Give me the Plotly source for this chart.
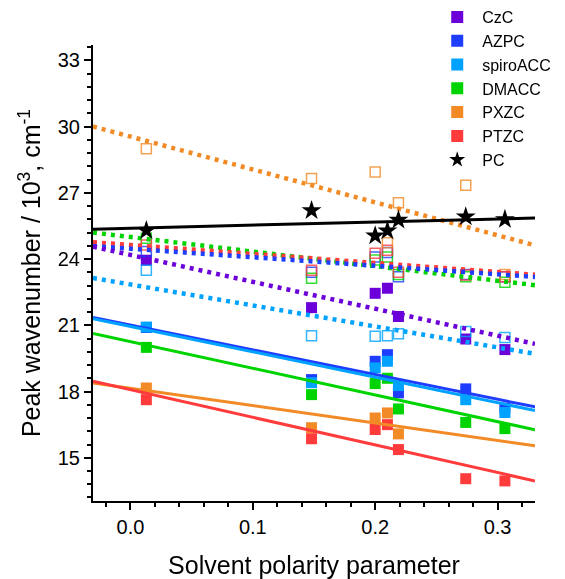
import plotly.graph_objects as go

# ---------------- data ----------------
polarity = [0.013, 0.148, 0.200, 0.210, 0.219, 0.274, 0.306]

names = ["CzC", "AZPC", "spiroACC", "DMACC", "PXZC", "PTZC"]
colors = ["#6c00d9", "#1e3dff", "#00a2ff", "#00d400", "#f28a26", "#ff3b3b"]

# filled squares
CzC_filled = [23.95, 21.80, 22.45, 22.68, 21.40, 20.38, 19.90]
AZPC_filled = [20.90, 18.54, 19.37, 19.67, 17.94, 18.12, 17.25]
spiroACC_filled = [20.92, 18.40, 19.07, 19.37, 18.27, 17.63, 17.05]
DMACC_filled = [20.00, 17.86, 18.36, 18.60, 17.21, 16.60, 16.32]
PXZC_filled = [18.16, 16.36, 16.80, 17.03, 16.08, None, None]
PTZC_filled = [17.63, 15.86, 16.28, 16.50, 15.37, 14.05, 13.95]

# open squares
AZPC_open = [24.34, 23.40, 24.10, 24.30, 23.20, 23.30, 23.20]
spiroACC_open = [23.50, 20.53, 20.50, 20.53, 20.62, 20.72, 20.45]
DMACC_open = [24.94, 23.13, 23.96, 24.10, 23.30, 23.20, 22.95]
PXZC_open = [29.00, 27.65, 27.95, 24.74, 26.55, 27.35, 23.30]
PTZC_open = [24.64, 23.50, 24.26, 24.40, 23.40, 23.28, 23.20]

PC = [25.30, 26.20, 25.06, 25.28, 25.77, 25.92, 25.80]

# linear fits: (intercept at 0, slope)
solid_fit_names = ["AZPC", "spiroACC", "DMACC", "PXZC", "PTZC", "PC"]
solid_fit_colors = ["#1e3dff", "#00a2ff", "#00d400", "#f28a26", "#ff3b3b", "#000000"]
solid_intercepts = [21.01, 20.95, 20.26, 18.15, 18.08, 25.40]
solid_slopes = [-11.21, -11.52, -12.08, -7.89, -12.50, 1.39]

dot_fit_names = ["PXZC", "DMACC", "PTZC", "AZPC", "CzC", "spiroACC"]
dot_fit_colors = ["#f28a26", "#00d400", "#ff3b3b", "#1e3dff", "#6c00d9", "#00a2ff"]
dot_intercepts = [29.55, 25.00, 24.64, 24.47, 24.19, 22.85]
dot_slopes = [-14.90, -6.60, -4.08, -3.86, -12.20, -9.50]

x_range = [-0.0306, 0.3306]
y_range = [13.04, 33.70]
x_ticks = [0.0, 0.1, 0.2, 0.3]

FONT = "Arial, Liberation Sans, sans-serif"

filled = [CzC_filled, AZPC_filled, spiroACC_filled, DMACC_filled, PXZC_filled, PTZC_filled]
open_sets = {"AZPC": AZPC_open, "spiroACC": spiroACC_open, "DMACC": DMACC_open,
             "PTZC": PTZC_open, "PXZC": PXZC_open}
col = dict(zip(names, colors))

fig = go.Figure()

# filled squares
for i, (nm, c, vals) in enumerate(zip(names, colors, filled)):
    fig.add_trace(go.Scatter(
        x=polarity, y=vals, mode="markers", name=nm, legendrank=10 + i,
        marker=dict(symbol="square", size=11, color=c, line=dict(width=0)),
    ))

# open squares
for nm in ["AZPC", "spiroACC", "DMACC", "PTZC", "PXZC"]:
    fig.add_trace(go.Scatter(
        x=polarity, y=open_sets[nm], mode="markers",
        name=nm + " open", showlegend=False,
        marker=dict(symbol="square-open", size=10, color=col[nm],
                    line=dict(width=1.5, color=col[nm])),
        opacity=0.8,
    ))

# dotted fits
for nm, c, b, m in zip(dot_fit_names, dot_fit_colors, dot_intercepts, dot_slopes):
    fig.add_trace(go.Scatter(
        x=x_range, y=[b + m * xv for xv in x_range], mode="lines",
        showlegend=False, line=dict(color=c, width=4.5, dash="4px,5px"),
    ))

# solid fits
for nm, c, b, m in zip(solid_fit_names, solid_fit_colors, solid_intercepts, solid_slopes):
    fig.add_trace(go.Scatter(
        x=x_range, y=[b + m * xv for xv in x_range], mode="lines",
        showlegend=False, line=dict(color=c, width=3),
    ))

# PC stars
fig.add_trace(go.Scatter(
    x=polarity, y=PC, mode="markers", name="PC", legendrank=70,
    marker=dict(symbol="star", size=15, color="black", line=dict(width=0)),
))

axis_common = dict(
    showline=True, linecolor="black", linewidth=2, mirror=False,
    ticks="outside", ticklen=7, tickwidth=2, tickcolor="black",
    showgrid=False, zeroline=False, automargin=False,
    tickfont=dict(family=FONT, size=20, color="black"),
)

fig.update_xaxes(
    range=x_range, tickvals=x_ticks, tickformat=".1f",
    minor=dict(ticks="outside", ticklen=4, tickwidth=1.5, tickcolor="black",
               dtick=0.02, tick0=0, showgrid=False),
    title=dict(text="Solvent polarity parameter", standoff=20,
               font=dict(family=FONT, size=25, color="black")),
    **axis_common,
)
fig.update_yaxes(
    range=y_range, dtick=3, tick0=0,
    minor=dict(ticks="outside", ticklen=4, tickwidth=1.5, tickcolor="black",
               dtick=0.6, tick0=0, showgrid=False),
    title=dict(text="Peak wavenumber / 10<sup>3</sup>, cm<sup>-1</sup>", standoff=10,
               font=dict(family=FONT, size=25, color="black")),
    **axis_common,
)

fig.update_layout(
    width=565, height=579,
    margin=dict(l=93, r=30, t=45, b=78, autoexpand=False),
    paper_bgcolor="white", plot_bgcolor="white",
    font=dict(family=FONT, color="black"),
    legend=dict(x=0.765, y=1.0, xref="container", yref="container",
                xanchor="left", yanchor="top",
                font=dict(family=FONT, size=16, color="black"),
                bgcolor="rgba(0,0,0,0)", itemsizing="constant", itemwidth=40),
)

fig.write_html("out.html")
